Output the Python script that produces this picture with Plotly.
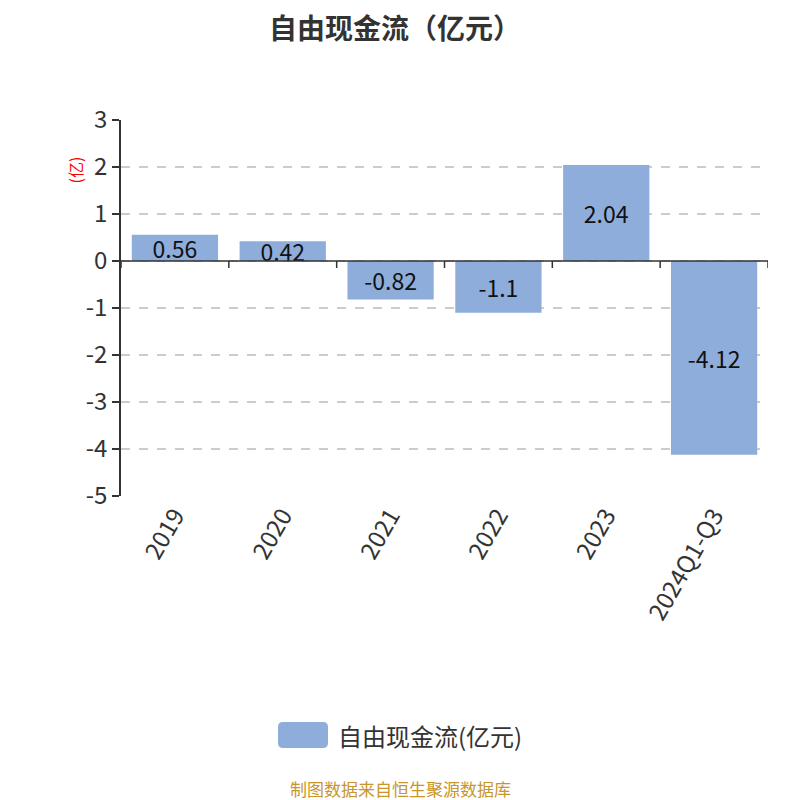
import plotly.graph_objects as go

categories = ["2019", "2020", "2021", "2022", "2023", "2024Q1-Q3"]
values = [0.56, 0.42, -0.82, -1.1, 2.04, -4.12]
value_labels = ["0.56", "0.42", "-0.82", "-1.1", "2.04", "-4.12"]
y_ticks = [3, 2, 1, 0, -1, -2, -3, -4, -5]
series_name = "自由现金流(亿元)"
title_text = "自由现金流（亿元）"

FONT = "Noto Sans CJK SC, Microsoft YaHei, sans-serif"
BAR = "#8eaddb"

# page has 8px body margin; screen plot area x 121..768, y 120..496
PL, PR, PT, PB = 121, 768, 120, 496
def fx(x):
    return (x - PL) / (PR - PL)
def fy(y):
    return (PB - y) / (PB - PT)

fig = go.Figure()
fig.add_trace(go.Bar(
    x=list(range(len(categories))), y=values, width=0.8,
    marker=dict(color=BAR, line=dict(width=0)),
    text=value_labels, textposition="inside", insidetextanchor="middle",
    constraintext="none", cliponaxis=False,
    textfont=dict(size=23, color="#111111", family=FONT),
    name=series_name, showlegend=False,
))

# zero axis line with boundary ticks
fig.add_shape(type="line", xref="x", yref="y", x0=-0.5, x1=len(categories) - 0.5,
              y0=0, y1=0, line=dict(color="#333333", width=1.5))
for i in range(len(categories) + 1):
    fig.add_shape(type="line", xref="x", yref="y", ysizemode="pixel", yanchor=0,
                  x0=i - 0.5, x1=i - 0.5, y0=0, y1=-7,
                  line=dict(color="#333333", width=1.5))

fig.update_layout(
    width=800, height=800,
    margin=dict(l=PL - 8, r=800 - PR + 8, t=PT - 8, b=800 - PB + 8),
    plot_bgcolor="white", paper_bgcolor="white",
    font=dict(family=FONT, color="#333333"),
    bargap=0.2,
    showlegend=False,
)
fig.update_xaxes(
    range=[-0.5, len(categories) - 0.5],
    tickvals=list(range(len(categories))), ticktext=categories,
    tickangle=-60, tickfont=dict(size=24, color="#333333"),
    showgrid=False, zeroline=False, showline=False, ticks="",
)
fig.update_yaxes(
    range=[-5, 3], tickvals=y_ticks, ticktext=[str(v) for v in y_ticks],
    tickfont=dict(size=24, color="#333333"),
    showgrid=True, gridcolor="#cccccc", griddash="dash", gridwidth=1.5,
    zeroline=False, showline=True, linecolor="#333333", linewidth=1.5,
    ticks="outside", ticklen=7, tickcolor="#333333", tickwidth=1.5,
)

# title
fig.add_annotation(text=f"<b>{title_text}</b>", xref="paper", yref="paper",
                   x=fx(395), y=fy(27), xanchor="center", yanchor="middle",
                   showarrow=False,
                   font=dict(size=28, color="#333333", family=FONT))

# y-axis unit label
fig.add_annotation(text="(亿)", xref="paper", yref="paper",
                   x=fx(60), y=fy(155),
                   textangle=-90, showarrow=False,
                   font=dict(size=16, color="red", family=FONT))

# legend swatch (rounded) + text
x0, x1, y0, y1, r = 278, 328, 722, 748, 5
rx = r / (PR - PL)
ry = r / (PB - PT)
X0, X1, Y0, Y1 = fx(x0), fx(x1), fy(y1), fy(y0)
path = (f"M {X0+rx},{Y0} L {X1-rx},{Y0} Q {X1},{Y0} {X1},{Y0+ry} "
        f"L {X1},{Y1-ry} Q {X1},{Y1} {X1-rx},{Y1} L {X0+rx},{Y1} "
        f"Q {X0},{Y1} {X0},{Y1-ry} L {X0},{Y0+ry} Q {X0},{Y0} {X0+rx},{Y0} Z")
fig.add_shape(type="path", xref="paper", yref="paper", path=path,
              fillcolor=BAR, line=dict(width=0), layer="above")
fig.add_annotation(text=series_name, xref="paper", yref="paper",
                   x=fx(336), y=fy(735),
                   xanchor="left", yanchor="middle", showarrow=False,
                   font=dict(size=24, color="#333333", family=FONT))

# source
fig.add_annotation(text="制图数据来自恒生聚源数据库", xref="paper", yref="paper",
                   x=fx(400), y=fy(788),
                   xanchor="center", yanchor="middle", showarrow=False,
                   font=dict(size=17, color="#c8962a", family=FONT))

fig.write_html("out.html")
